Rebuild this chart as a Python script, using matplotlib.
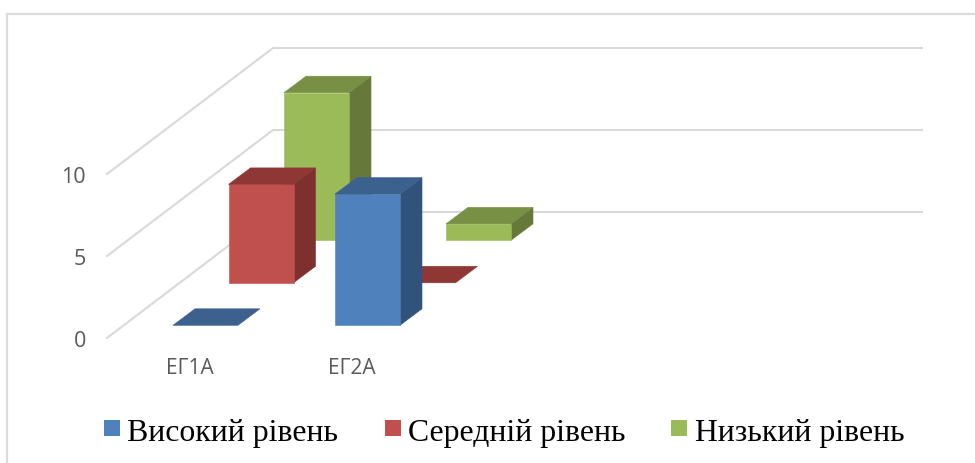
import matplotlib
matplotlib.use("Agg")
import matplotlib.pyplot as plt
from matplotlib.patches import Polygon, Rectangle

categories = ["ЕГ1А", "ЕГ2А"]
series_names = ["Високий рівень", "Середній рівень", "Низький рівень"]
high = [0, 8]
medium = [6, 0]
low = [9, 1]
y_ticks = [0, 5, 10]

# front, side, top colours per series
front_cols = ["#4f81bd", "#c0504d", "#9bbb59"]
side_cols = ["#31527a", "#7d302e", "#66783a"]
top_cols = ["#3d618f", "#8e3734", "#779043"]

PX_PER_UNIT = 16.4
BAR_W = 65
DEPTH_X, DEPTH_Y = 22, 16.5
GRID = "#d9d9d9"
TEXT = "#595959"


# oblique projection, the axes run in image pixels
def base_point(cat, s):
    return 173 + 162 * cat + 55.5 * s, 326.3 - 42.5 * s


def draw_bar(ax, cat, s, value):
    x, y0 = base_point(cat, s)
    y1 = y0 - value * PX_PER_UNIT
    if value > 0:
        ax.add_patch(Polygon([(x + BAR_W, y0), (x + BAR_W + DEPTH_X, y0 - DEPTH_Y),
                              (x + BAR_W + DEPTH_X, y1 - DEPTH_Y), (x + BAR_W, y1)],
                             fc=side_cols[s], ec=side_cols[s], lw=0.4))
        ax.add_patch(Rectangle((x, y1), BAR_W, y0 - y1, fc=front_cols[s], ec=front_cols[s], lw=0.4))
    ax.add_patch(Polygon([(x, y1), (x + BAR_W, y1), (x + BAR_W + DEPTH_X, y1 - DEPTH_Y),
                          (x + DEPTH_X, y1 - DEPTH_Y)],
                         fc=top_cols[s], ec=top_cols[s], lw=0.4))


fig = plt.figure(figsize=(9.75, 4.64), dpi=100)
ax = fig.add_axes([0, 0, 1, 1])
ax.set_xlim(0, 975)
ax.set_ylim(464, 0)
ax.axis("off")

# chart frame, open to the right and bottom
ax.plot([7, 7, 975], [464, 14.5, 14.5], color="#dcdcdc", lw=1.6, solid_joinstyle="miter", zorder=0)

# walls
for v in y_ticks:
    ax.plot([107, 273, 922], [339 - v * PX_PER_UNIT, 213 - v * PX_PER_UNIT, 213 - v * PX_PER_UNIT],
            color=GRID, lw=1.5, zorder=0)
    ax.text(86, 341.5 - v * PX_PER_UNIT, str(v), ha="right", va="center",
            fontsize=15.5, color=TEXT, family="Open Sans")

# back row first so the front row covers it
values = [high, medium, low]
for s in [2, 1, 0]:
    for cat in range(len(categories)):
        draw_bar(ax, cat, s, values[s][cat])

for i, name in enumerate(categories):
    ax.text(189.5 + 162 * i, 369, name, ha="center", va="center",
            fontsize=15, color=TEXT, family="Open Sans")

# legend
leg_x = [104, 385, 671]
txt_x = [127, 407.5, 695]
for i, name in enumerate(series_names):
    ax.add_patch(Rectangle((leg_x[i], 421), 16, 16, fc=front_cols[i], ec="none"))
    ax.text(txt_x[i], 441, name, ha="left", va="baseline",
            fontsize=22.9, color="black", family="Liberation Serif")

fig.savefig("out.png", dpi=100)
